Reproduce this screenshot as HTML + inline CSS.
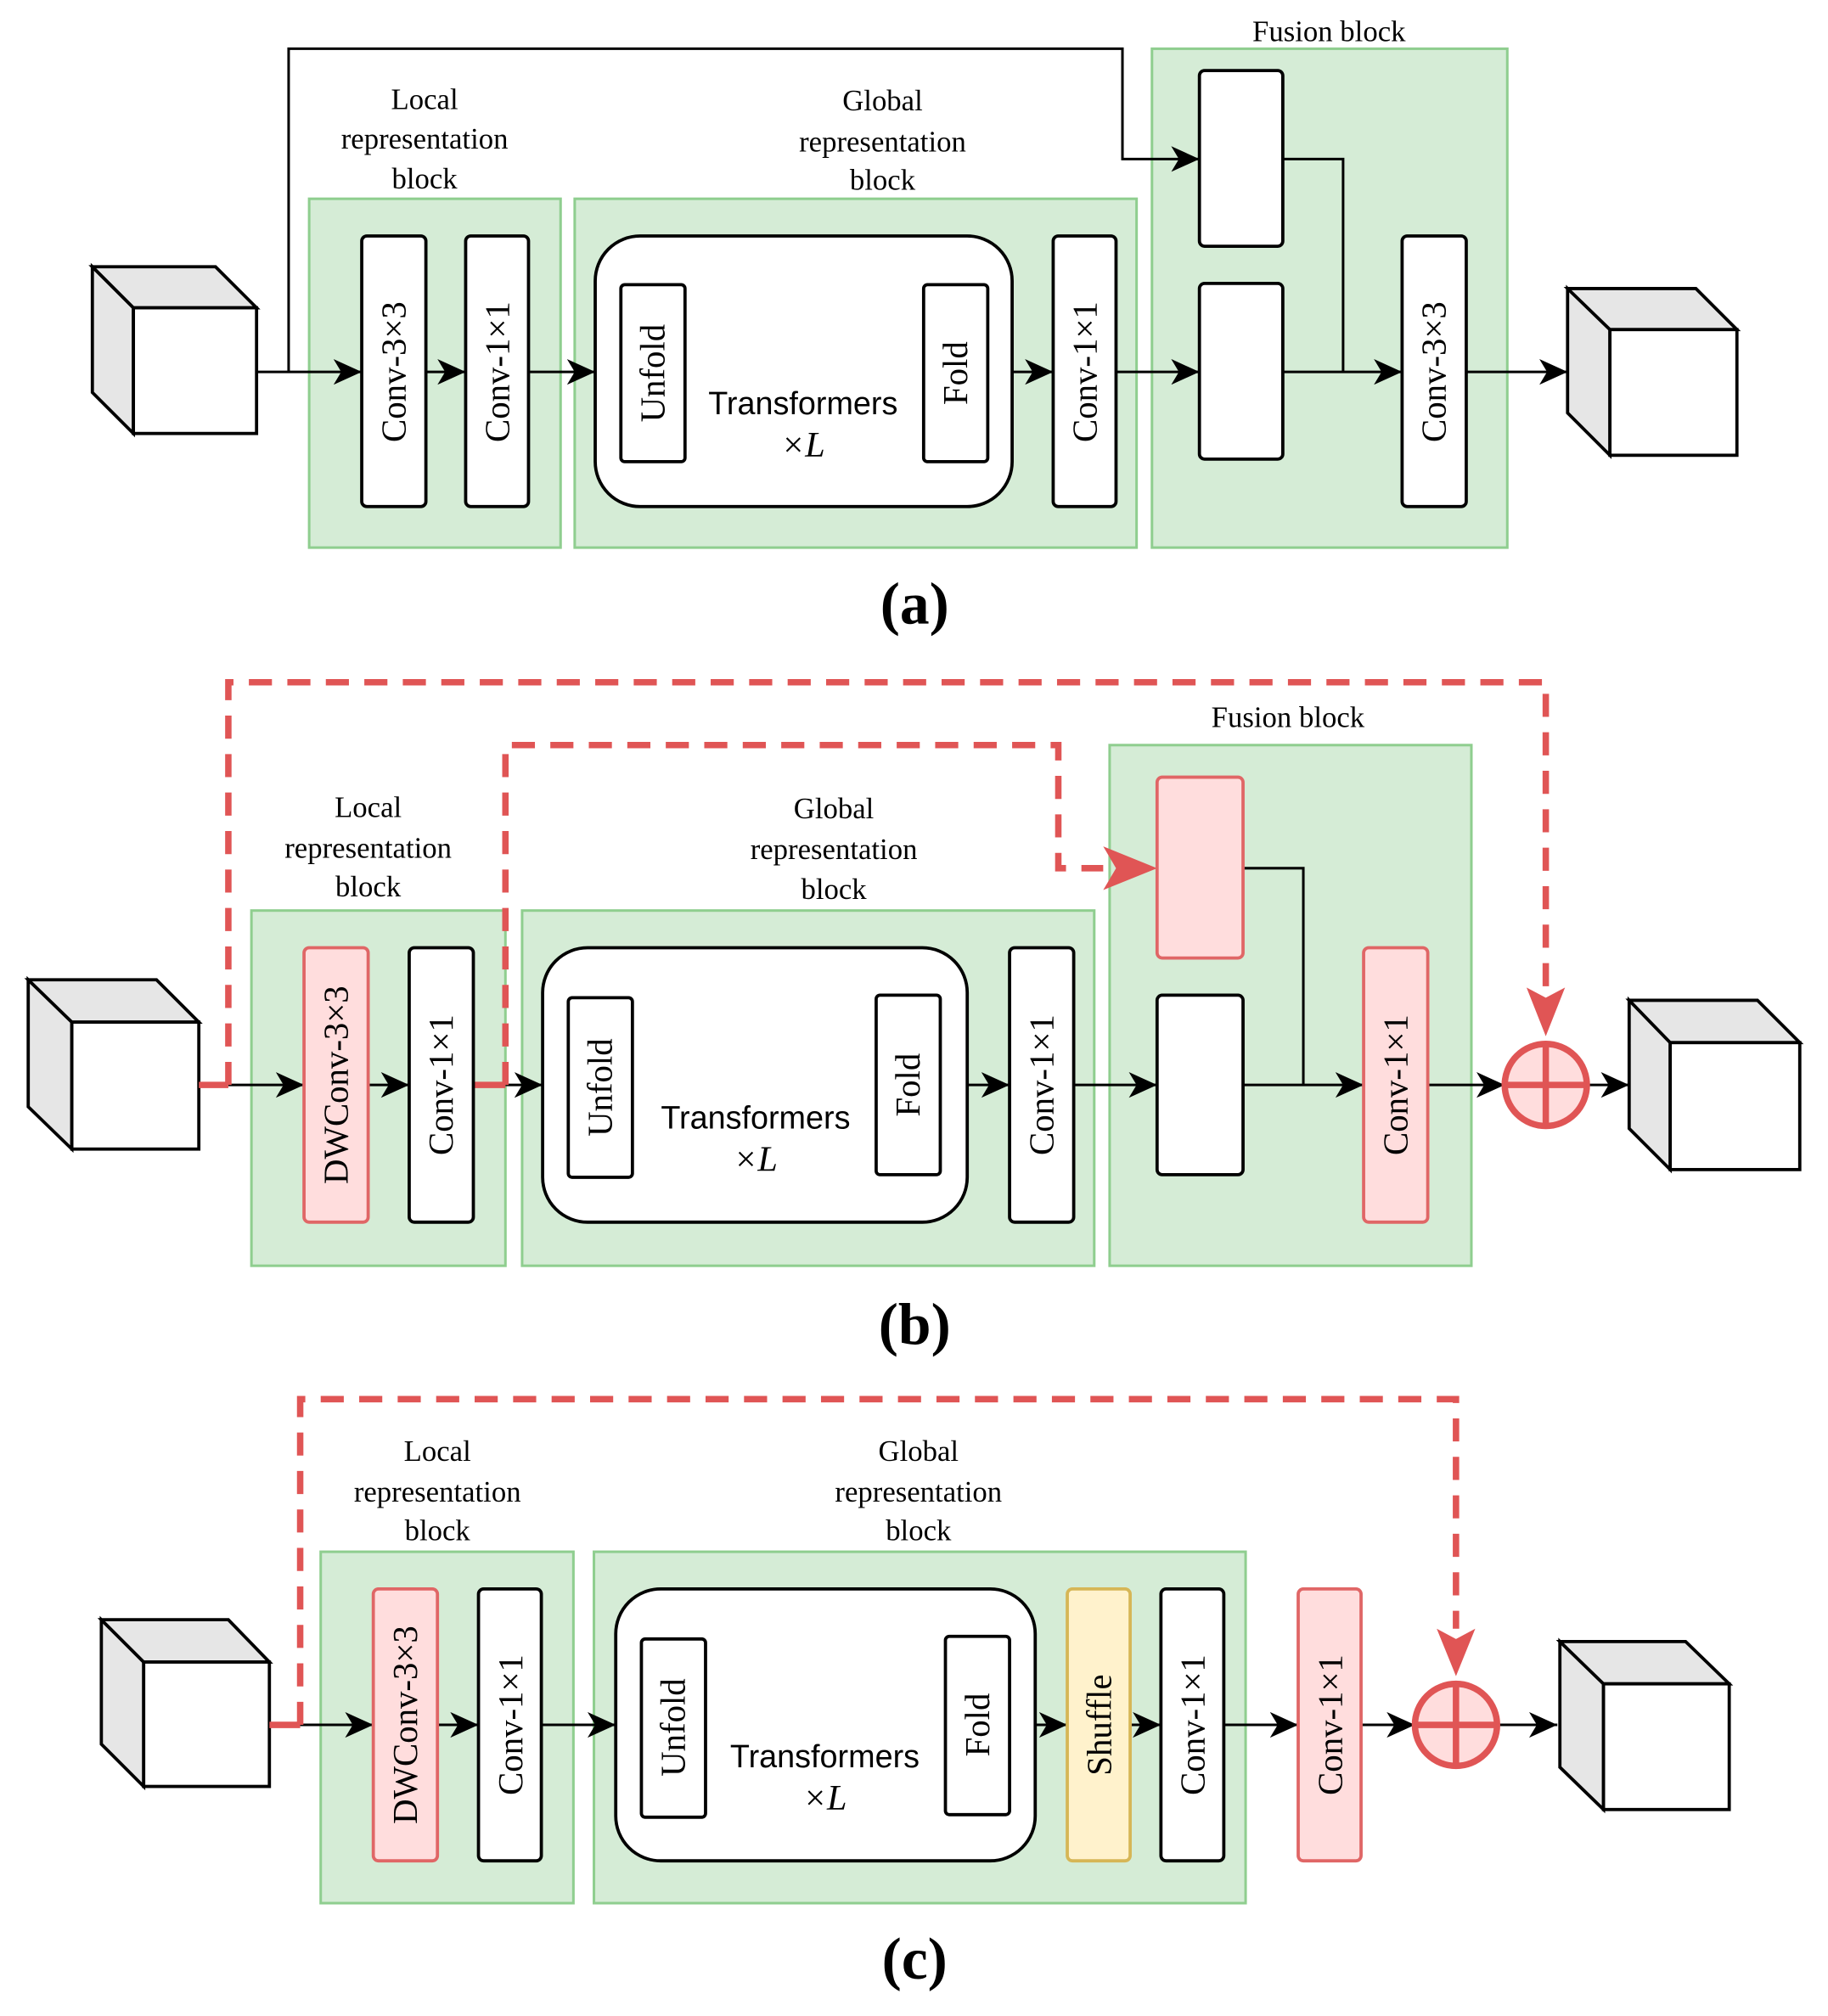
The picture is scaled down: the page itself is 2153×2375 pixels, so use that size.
<!DOCTYPE html>
<html><head><meta charset="utf-8"><style>
html,body{margin:0;padding:0;background:#fff;}
svg{display:block;}
.g{fill:#d5ecd6;stroke:#8fce8f;stroke-width:2;}
.b{fill:#fff;stroke:#000;stroke-width:2.5;}
.r{fill:#fdd;stroke:#e06666;stroke-width:2.5;}
.y{fill:#fff2cc;stroke:#d6b656;stroke-width:2.5;}
.l{stroke:#000;stroke-width:2;fill:none;}
.d{stroke:#e05555;stroke-width:5;fill:none;stroke-dasharray:18 12;}
.vt{font-family:"Liberation Serif",serif;font-size:27px;text-anchor:middle;dominant-baseline:central;}
.lb{font-family:"Liberation Serif",serif;font-size:23px;text-anchor:middle;}
.tf{font-family:"Liberation Sans",sans-serif;font-size:25px;text-anchor:middle;}
.xl{font-family:"Liberation Serif",serif;font-size:28px;text-anchor:middle;font-style:italic;}
.cap{font-family:"Liberation Serif",serif;font-size:46px;text-anchor:middle;font-weight:bold;}
.cf{fill:#fff;stroke:#000;stroke-width:2.5;}
.cs{fill:#e6e6e6;stroke:#000;stroke-width:2.5;}
</style></head><body>
<svg width="2153" height="2375" viewBox="0 0 1425 1572" preserveAspectRatio="none" xmlns="http://www.w3.org/2000/svg">
<defs>
<marker id="a" markerUnits="userSpaceOnUse" markerWidth="24" markerHeight="20" refX="22" refY="10" orient="auto"><path d="M0,0 L22,10 L0,20 L6,10 Z" fill="#000"/></marker>
<marker id="ra" markerUnits="userSpaceOnUse" markerWidth="44" markerHeight="40" refX="42" refY="20" orient="auto"><path d="M0,0 L42,20 L0,40 L10,20 Z" fill="#e05555"/></marker>
</defs>

<!-- ===== (a) ===== -->
<polygon class="cs" points="72,208 104,240 104,338 72,306"/>
<polygon class="cs" points="72,208 168,208 200,240 104,240"/>
<rect class="cf" x="104" y="240" width="96" height="98"/>

<rect class="g" x="241" y="155" width="196" height="272"/>
<rect class="g" x="448" y="155" width="438" height="272"/>
<rect class="g" x="898" y="38" width="277" height="389"/>

<path class="l" d="M200,290 L282,290" marker-end="url(#a)"/>
<path class="l" d="M225,290 L225,38 L875,38 L875,124 L935,124" marker-end="url(#a)"/>
<path class="l" d="M332,290 L363,290" marker-end="url(#a)"/>
<path class="l" d="M412,290 L464,290" marker-end="url(#a)"/>
<path class="l" d="M789,290 L821,290" marker-end="url(#a)"/>
<path class="l" d="M870,290 L935,290" marker-end="url(#a)"/>
<path class="l" d="M1000,124 L1047,124 L1047,290"/>
<path class="l" d="M1000,290 L1093,290" marker-end="url(#a)"/>
<path class="l" d="M1143,290 L1222,290" marker-end="url(#a)"/>

<rect class="b" x="282" y="184" width="50" height="211" rx="4"/>
<text class="vt" transform="translate(307,290) rotate(-90)">Conv-3×3</text>
<rect class="b" x="363" y="184" width="49" height="211" rx="4"/>
<text class="vt" transform="translate(388,290) rotate(-90)">Conv-1×1</text>
<rect class="b" x="464" y="184" width="325" height="211" rx="35"/>
<rect class="b" x="484" y="222" width="50" height="138" rx="3"/>
<text class="vt" transform="translate(509,291) rotate(-90)">Unfold</text>
<rect class="b" x="720" y="222" width="50" height="138" rx="3"/>
<text class="vt" transform="translate(745,291) rotate(-90)">Fold</text>
<text class="tf" x="626" y="323">Transformers</text>
<text class="xl" x="626" y="356">×L</text>
<rect class="b" x="821" y="184" width="49" height="211" rx="4"/>
<text class="vt" transform="translate(846,290) rotate(-90)">Conv-1×1</text>
<rect class="b" x="935" y="55" width="65" height="137" rx="4"/>
<rect class="b" x="935" y="221" width="65" height="137" rx="4"/>
<rect class="b" x="1093" y="184" width="50" height="211" rx="4"/>
<text class="vt" transform="translate(1118,290) rotate(-90)">Conv-3×3</text>

<polygon class="cs" points="1222,225 1255,257 1255,355 1222,322"/>
<polygon class="cs" points="1222,225 1322,225 1354,257 1255,257"/>
<rect class="cf" x="1255" y="257" width="99" height="98"/>

<text class="lb" x="331" y="85">Local</text>
<text class="lb" x="331" y="116">representation</text>
<text class="lb" x="331" y="147">block</text>
<text class="lb" x="688" y="86">Global</text>
<text class="lb" x="688" y="118">representation</text>
<text class="lb" x="688" y="148">block</text>
<text class="lb" x="1036" y="32">Fusion block</text>
<text class="cap" x="713" y="486">(a)</text>

<!-- ===== (b) ===== -->
<polygon class="cs" points="22,764 56,797 56,896 22,863"/>
<polygon class="cs" points="22,764 122,764 155,797 56,797"/>
<rect class="cf" x="56" y="797" width="99" height="99"/>

<rect class="g" x="196" y="710" width="198" height="277"/>
<rect class="g" x="407" y="710" width="446" height="277"/>
<rect class="g" x="865" y="581" width="282" height="406"/>

<path class="l" d="M178,846 L237,846" marker-end="url(#a)"/>
<path class="l" d="M287,846 L319,846" marker-end="url(#a)"/>
<path class="l" d="M394,846 L423,846" marker-end="url(#a)"/>
<path class="l" d="M754,846 L787,846" marker-end="url(#a)"/>
<path class="l" d="M837,846 L902,846" marker-end="url(#a)"/>
<path class="l" d="M969,677 L1016,677 L1016,846"/>
<path class="l" d="M969,846 L1063,846" marker-end="url(#a)"/>
<path class="l" d="M1113,846 L1173,846" marker-end="url(#a)"/>
<path class="l" d="M1237,846 L1270,846" marker-end="url(#a)"/>
<path d="M155,846 L178,846 M369,846 L394,846" stroke="#e05555" stroke-width="5"/>
<path class="d" d="M178,846 L178,532 L1205,532 L1205,770"/>
<path d="M1190,770 L1205,808 L1220,770 L1205,778 Z" fill="#e05555"/>
<path class="d" d="M394,846 L394,581 L825,581 L825,677 L860,677"/>
<path d="M860,660 L902,677 L860,694 L870,677 Z" fill="#e05555"/>

<rect class="r" x="237" y="739" width="50" height="214" rx="4"/>
<text class="vt" transform="translate(262,846) rotate(-90)">DWConv-3×3</text>
<rect class="b" x="319" y="739" width="50" height="214" rx="4"/>
<text class="vt" transform="translate(344,846) rotate(-90)">Conv-1×1</text>
<rect class="b" x="423" y="739" width="331" height="214" rx="35"/>
<rect class="b" x="443" y="778" width="50" height="140" rx="3"/>
<text class="vt" transform="translate(468,848) rotate(-90)">Unfold</text>
<rect class="b" x="683" y="776" width="50" height="140" rx="3"/>
<text class="vt" transform="translate(708,846) rotate(-90)">Fold</text>
<text class="tf" x="589" y="880">Transformers</text>
<text class="xl" x="589" y="913">×L</text>
<rect class="b" x="787" y="739" width="50" height="214" rx="4"/>
<text class="vt" transform="translate(812,846) rotate(-90)">Conv-1×1</text>
<rect class="r" x="902" y="606" width="67" height="141" rx="4"/>
<rect class="b" x="902" y="776" width="67" height="140" rx="4"/>
<rect class="r" x="1063" y="739" width="50" height="214" rx="4"/>
<text class="vt" transform="translate(1088,846) rotate(-90)">Conv-1×1</text>
<circle cx="1205" cy="846" r="32" fill="#fdd" stroke="#e05555" stroke-width="5"/>
<path d="M1173,846 L1237,846 M1205,814 L1205,878" stroke="#e05555" stroke-width="5"/>

<polygon class="cs" points="1270,780 1302,813 1302,912 1270,880"/>
<polygon class="cs" points="1270,780 1370,780 1403,813 1302,813"/>
<rect class="cf" x="1302" y="813" width="101" height="99"/>

<text class="lb" x="287" y="637">Local</text>
<text class="lb" x="287" y="669">representation</text>
<text class="lb" x="287" y="699">block</text>
<text class="lb" x="650" y="638">Global</text>
<text class="lb" x="650" y="670">representation</text>
<text class="lb" x="650" y="701">block</text>
<text class="lb" x="1004" y="567">Fusion block</text>
<text class="cap" x="713" y="1048">(b)</text>

<!-- ===== (c) ===== -->
<polygon class="cs" points="79,1263 112,1296 112,1393 79,1360"/>
<polygon class="cs" points="79,1263 178,1263 210,1296 112,1296"/>
<rect class="cf" x="112" y="1296" width="98" height="97"/>

<rect class="g" x="250" y="1210" width="197" height="274"/>
<rect class="g" x="463" y="1210" width="508" height="274"/>

<path class="l" d="M234,1345 L291,1345" marker-end="url(#a)"/>
<path class="l" d="M341,1345 L373,1345" marker-end="url(#a)"/>
<path class="l" d="M422,1345 L480,1345" marker-end="url(#a)"/>
<path class="l" d="M807,1345 L832,1345" marker-end="url(#a)"/>
<path class="l" d="M881,1345 L905,1345" marker-end="url(#a)"/>
<path class="l" d="M954,1345 L1012,1345" marker-end="url(#a)"/>
<path class="l" d="M1061,1345 L1103,1345" marker-end="url(#a)"/>
<path class="l" d="M1167,1345 L1214,1345" marker-end="url(#a)"/>
<path d="M210,1345 L234,1345" stroke="#e05555" stroke-width="5"/>
<path class="d" d="M234,1345 L234,1091 L1135,1091 L1135,1270"/>
<path d="M1120,1270 L1135,1307 L1150,1270 L1135,1278 Z" fill="#e05555"/>

<rect class="r" x="291" y="1239" width="50" height="212" rx="4"/>
<text class="vt" transform="translate(316,1345) rotate(-90)">DWConv-3×3</text>
<rect class="b" x="373" y="1239" width="49" height="212" rx="4"/>
<text class="vt" transform="translate(398,1345) rotate(-90)">Conv-1×1</text>
<rect class="b" x="480" y="1239" width="327" height="212" rx="35"/>
<rect class="b" x="500" y="1278" width="50" height="139" rx="3"/>
<text class="vt" transform="translate(525,1347) rotate(-90)">Unfold</text>
<rect class="b" x="737" y="1276" width="50" height="139" rx="3"/>
<text class="vt" transform="translate(762,1345) rotate(-90)">Fold</text>
<text class="tf" x="643" y="1378">Transformers</text>
<text class="xl" x="643" y="1411">×L</text>
<rect class="y" x="832" y="1239" width="49" height="212" rx="4"/>
<text class="vt" transform="translate(857,1345) rotate(-90)">Shuffle</text>
<rect class="b" x="905" y="1239" width="49" height="212" rx="4"/>
<text class="vt" transform="translate(930,1345) rotate(-90)">Conv-1×1</text>
<rect class="r" x="1012" y="1239" width="49" height="212" rx="4"/>
<text class="vt" transform="translate(1037,1345) rotate(-90)">Conv-1×1</text>
<circle cx="1135" cy="1345" r="32" fill="#fdd" stroke="#e05555" stroke-width="5"/>
<path d="M1103,1345 L1167,1345 M1135,1313 L1135,1377" stroke="#e05555" stroke-width="5"/>

<polygon class="cs" points="1216,1280 1250,1313 1250,1411 1216,1378"/>
<polygon class="cs" points="1216,1280 1314,1280 1348,1313 1250,1313"/>
<rect class="cf" x="1250" y="1313" width="98" height="98"/>

<text class="lb" x="341" y="1139">Local</text>
<text class="lb" x="341" y="1171">representation</text>
<text class="lb" x="341" y="1201">block</text>
<text class="lb" x="716" y="1139">Global</text>
<text class="lb" x="716" y="1171">representation</text>
<text class="lb" x="716" y="1201">block</text>
<text class="cap" x="713" y="1543">(c)</text>
</svg>
</body></html>
